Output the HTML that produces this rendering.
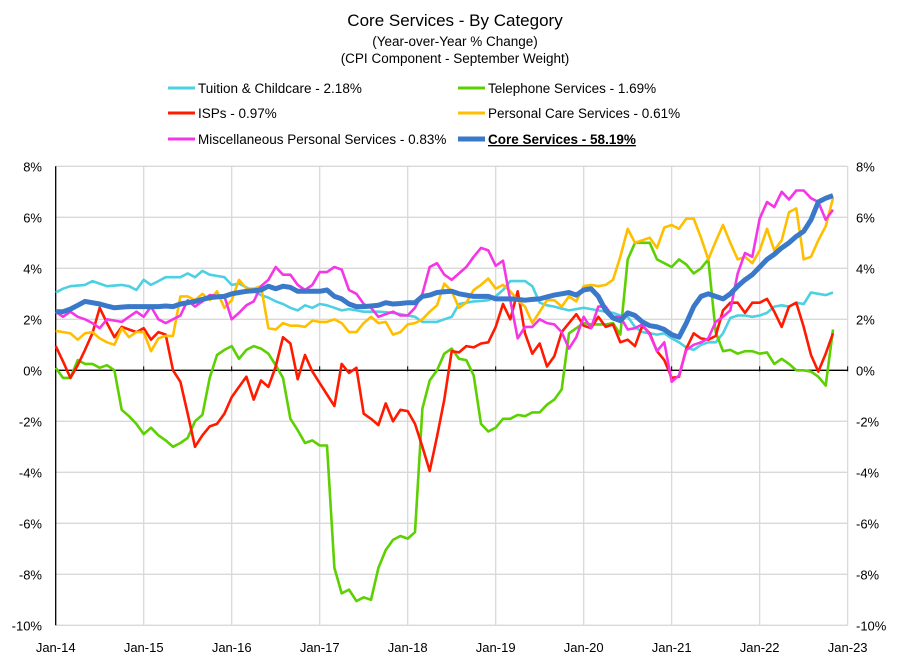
<!DOCTYPE html>
<html><head><meta charset="utf-8"><style>
body{margin:0;background:#fff}
svg text{font-family:"Liberation Sans",sans-serif;fill:#000}
</style></head><body>
<svg id="chart" width="911" height="661" xmlns="http://www.w3.org/2000/svg">
<text x="455" y="26" text-anchor="middle" font-size="17">Core Services  - By Category</text>
<text x="455" y="46" text-anchor="middle" font-size="13.5">(Year-over-Year % Change)</text>
<text x="455" y="63" text-anchor="middle" font-size="13.5">(CPI Component - September Weight)</text>
<g id="grid"></g>
<g id="axes"></g>
<g id="series"></g>
<g id="legend"></g>
</svg>
<script>
const xTickLabels=["Jan-14","Jan-15","Jan-16","Jan-17","Jan-18","Jan-19","Jan-20","Jan-21","Jan-22","Jan-23"];
const yTicks=[8,6,4,2,0,-2,-4,-6,-8,-10];
const tuition=[3.05,3.2,3.3,3.32,3.35,3.5,3.4,3.3,3.32,3.35,3.3,3.15,3.55,3.35,3.5,3.65,3.65,3.65,3.8,3.65,3.9,3.75,3.7,3.65,3.35,3.4,3.25,3.1,2.95,2.85,2.7,2.6,2.45,2.35,2.55,2.45,2.6,2.55,2.45,2.35,2.4,2.35,2.3,2.3,2.3,2.28,2.25,2.2,2.15,2.1,1.9,1.9,1.9,2.0,2.1,2.6,2.65,2.7,2.72,2.75,2.9,3.15,3.5,3.5,3.5,3.3,2.65,2.55,2.5,2.42,2.35,2.4,2.45,2.4,2.35,2.3,2.25,2.15,2.1,1.7,1.5,1.45,1.4,1.45,1.25,1.1,0.9,0.8,1.0,1.1,1.1,1.45,2.05,2.15,2.15,2.1,2.15,2.25,2.5,2.55,2.5,2.65,2.6,3.05,3.0,2.95,3.05];
const telephone=[0.1,-0.3,-0.3,0.4,0.25,0.25,0.1,0.2,0.0,-1.55,-1.8,-2.1,-2.5,-2.25,-2.55,-2.75,-3.0,-2.85,-2.65,-2.0,-1.75,-0.3,0.6,0.8,0.95,0.45,0.8,0.95,0.85,0.65,0.2,-0.3,-1.9,-2.35,-2.85,-2.75,-2.95,-2.95,-7.75,-8.75,-8.6,-9.05,-8.9,-9.0,-7.75,-7.05,-6.65,-6.5,-6.6,-6.35,-1.5,-0.4,0.0,0.65,0.85,0.45,0.4,-0.2,-2.1,-2.4,-2.25,-1.9,-1.9,-1.75,-1.8,-1.65,-1.65,-1.35,-1.15,-0.75,1.45,1.65,1.85,1.8,1.8,1.8,1.85,1.4,4.35,5.0,5.0,5.0,4.35,4.2,4.05,4.35,4.15,3.8,4.0,4.35,1.5,0.75,0.8,0.65,0.75,0.75,0.65,0.7,0.25,0.45,0.25,0.0,0.0,-0.05,-0.25,-0.6,1.6];
const isps=[0.95,0.35,-0.3,0.2,0.8,1.45,2.45,1.85,1.3,1.7,1.6,1.5,1.65,1.2,1.5,1.4,0.0,-0.45,-1.7,-3.0,-2.55,-2.2,-2.1,-1.7,-1.05,-0.65,-0.25,-1.15,-0.4,-0.65,0.15,1.3,1.05,-0.35,0.6,-0.05,-0.5,-0.95,-1.4,0.25,-0.1,0.1,-1.7,-1.9,-2.15,-1.3,-2.0,-1.55,-1.6,-2.1,-3.0,-3.95,-2.6,-1.15,0.75,0.7,0.95,0.9,1.05,1.1,1.7,2.6,2.0,3.1,1.45,0.65,1.05,0.15,0.55,1.5,1.85,2.2,1.75,1.65,2.1,1.7,1.8,1.1,1.2,0.95,1.75,1.45,0.75,0.4,-0.3,-0.25,0.85,1.45,1.25,1.2,1.35,2.35,2.65,2.65,2.25,2.65,2.65,2.8,2.3,1.7,2.5,2.65,1.7,0.6,-0.05,0.65,1.45];
const personalCare=[1.55,1.5,1.45,1.2,1.45,1.5,1.25,1.1,1.0,1.65,1.3,1.5,1.5,0.75,1.25,1.35,1.35,2.9,2.9,2.75,3.0,2.75,3.1,2.45,2.75,3.55,3.2,3.2,3.3,1.65,1.6,1.85,1.75,1.75,1.7,1.95,1.9,1.9,2.0,1.85,1.5,1.5,1.85,2.1,1.85,1.9,1.4,1.5,1.8,1.85,2.0,2.3,2.55,3.4,3.1,2.45,2.65,3.15,3.35,3.6,3.2,3.35,3.1,2.75,2.5,1.85,2.3,2.75,2.75,2.5,2.9,2.7,3.3,3.35,3.3,3.35,3.55,4.45,5.55,5.0,5.1,5.2,4.8,5.6,5.7,5.55,5.95,5.95,5.2,4.35,5.05,5.7,5.0,4.35,4.45,4.2,4.7,5.55,4.7,5.1,6.2,6.35,4.35,4.45,5.1,5.65,6.75];
const miscPersonal=[2.3,2.1,2.3,2.1,2.0,1.85,1.65,2.0,1.95,1.9,2.1,2.3,2.1,2.5,2.0,1.85,2.0,2.15,2.75,2.5,2.7,2.95,2.92,2.9,2.0,2.25,2.55,2.7,3.3,3.55,4.05,3.75,3.75,3.35,3.15,3.35,3.85,3.85,4.05,3.95,3.15,3.0,2.6,2.45,2.1,2.2,2.3,2.15,2.15,2.45,3.0,4.05,4.2,3.75,3.55,3.8,4.05,4.45,4.8,4.7,4.1,4.3,2.75,1.25,1.7,1.7,2.0,1.85,1.8,1.5,0.85,1.3,2.1,1.65,2.5,2.5,2.1,2.1,1.6,1.65,1.8,1.4,0.75,1.1,-0.45,-0.2,0.8,1.0,1.1,1.25,1.9,2.1,2.35,3.8,4.6,4.45,5.95,6.6,6.4,7.0,6.7,7.05,7.05,6.75,6.6,5.9,6.3];
const coreServices=[2.3,2.3,2.4,2.55,2.7,2.65,2.6,2.52,2.45,2.48,2.5,2.5,2.5,2.5,2.5,2.52,2.5,2.6,2.65,2.7,2.78,2.85,2.88,2.9,3.0,3.05,3.1,3.12,3.15,3.3,3.2,3.3,3.25,3.1,3.1,3.1,3.1,3.15,2.9,2.8,2.6,2.5,2.5,2.52,2.55,2.65,2.6,2.62,2.65,2.65,2.9,2.95,3.05,3.08,3.1,3.0,2.95,2.9,2.9,2.9,2.8,2.8,2.8,2.78,2.75,2.78,2.8,2.88,2.95,3.0,3.05,2.95,3.15,3.2,2.9,2.35,2.05,1.95,2.25,2.15,1.9,1.75,1.7,1.6,1.4,1.3,1.85,2.5,2.9,3.0,2.9,2.8,3.0,3.3,3.55,3.75,4.05,4.35,4.55,4.8,5.0,5.25,5.45,5.9,6.6,6.75,6.85];

const X0=55.7, PXM=7.333, Y0=370.3, PYU=25.5;
const xS=m=>X0+m*PXM;
const yS=v=>Y0-v*PYU;
const NS="http://www.w3.org/2000/svg";
function mk(tag,attrs,parent,txt){const e=document.createElementNS(NS,tag);for(const k in attrs)e.setAttribute(k,attrs[k]);if(txt!==undefined)e.textContent=txt;parent.appendChild(e);return e;}
const grid=document.getElementById('grid'),axes=document.getElementById('axes'),ser=document.getElementById('series'),leg=document.getElementById('legend');
const xL=xS(0), xR=xS(108);
yTicks.forEach(v=>{
  const g=mk('line',{x1:xL,x2:xR,y1:yS(v),y2:yS(v),stroke:'#d9d9d9','stroke-width':1.3},grid);
  
  
  const t1=mk('text',{x:42,y:yS(v)+5,'text-anchor':'end','font-size':13},axes,v+'%');
  
  
  const t2=mk('text',{x:856,y:yS(v)+5,'text-anchor':'start','font-size':13},axes,v+'%');
  
  
});
xTickLabels.forEach((l,i)=>{
  const x=xS(i*12);
  if(i>0){const g=mk('line',{x1:x,x2:x,y1:yS(8),y2:yS(-10),stroke:'#d9d9d9','stroke-width':1.3},grid);
  
  }
  const tk=mk('line',{x1:x,x2:x,y1:yS(0)-4,y2:yS(0)+1,stroke:'#000'},axes);
  
  
  const t=mk('text',{x:x,y:652,'text-anchor':'middle','font-size':13},axes,l);
  
  
});
const ya=mk('line',{x1:xL,x2:xL,y1:yS(8),y2:yS(-10),stroke:'#000','stroke-width':1.3},axes);


const za=mk('line',{x1:xL,x2:xR,y1:yS(0),y2:yS(0),stroke:'#000','stroke-width':1.3},axes);


const list=[
 [tuition,'#4dd0e1',2.6,'tuition-line'],
 [telephone,'#5cd000',2.6,'telephone-line'],
 [isps,'#ff1a00',2.6,'isps-line'],
 [personalCare,'#ffbf00',2.6,'personal-care-line'],
 [miscPersonal,'#f536e6',2.6,'misc-personal-line'],
 [coreServices,'#3a78c9',5,'core-services-line']];
list.forEach(([d,c,w,n])=>{
  const p=mk('polyline',{points:d.map((v,i)=>xS(i).toFixed(1)+','+yS(v).toFixed(1)).join(' '),fill:'none',stroke:c,'stroke-width':w,'stroke-linejoin':'round'},ser);
  
  
});
const items=[
 [168,88,'#4dd0e1',3,'Tuition & Childcare - 2.18%',false],
 [458,88,'#5cd000',3,'Telephone Services - 1.69%',false],
 [168,113,'#ff1a00',3,'ISPs - 0.97%',false],
 [458,113,'#ffbf00',3,'Personal Care Services - 0.61%',false],
 [168,139,'#f536e6',3,'Miscellaneous Personal Services - 0.83%',false],
 [458,139,'#3a78c9',5,'Core Services - 58.19%',true]];
items.forEach(([x,y,c,w,t,b])=>{
  const l=mk('line',{x1:x,x2:x+27,y1:y,y2:y,stroke:c,'stroke-width':w},leg);
  
  
  const a={x:x+30,y:y+5,'font-size':13.5};
  if(b){a['font-weight']='bold';a['text-decoration']='underline';}
  const tx=mk('text',a,leg,t);
  
  
});
</script>
</body></html>
